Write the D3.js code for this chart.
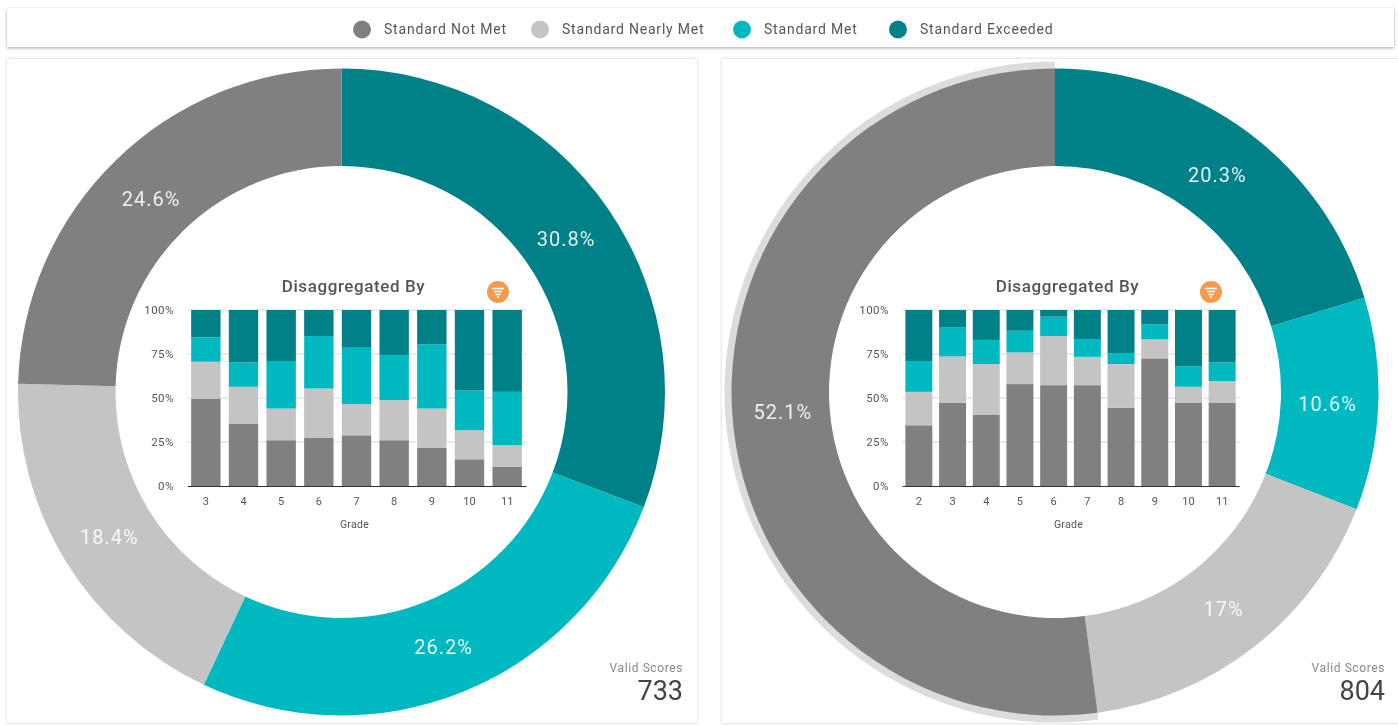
<!DOCTYPE html>
<html><head><meta charset="utf-8">
<script src="https://cdn.jsdelivr.net/npm/d3@7"></script>
<style>
html,body{margin:0;padding:0;background:#fff;overflow:hidden;width:1398px;height:725px;font-family:Roboto,sans-serif}
.card{position:absolute;background:#fff;box-shadow:0 0 3px rgba(0,0,0,.22)}
.bar{box-shadow:0 1px 3px rgba(0,0,0,.35)}
svg{position:absolute;left:0;top:0;filter:blur(.55px)}
</style></head><body>
<div class="card bar" style="left:7px;top:8px;width:1387px;height:39px"></div>
<div class="card" style="left:7px;top:59px;width:690px;height:664px"></div>
<div class="card" style="left:722px;top:59px;width:690px;height:664px"></div>
<svg id="c" width="1398" height="725"></svg>
<script>
const levels = ["Standard Not Met","Standard Nearly Met","Standard Met","Standard Exceeded"];
const levelColors = ["#808080","#c4c4c4","#00b8c0","#008087"];

const leftShares = [24.6,18.4,26.2,30.8];
const rightShares = [52.1,17,10.6,20.3];
const leftShareLabels = ["24.6%","18.4%","26.2%","30.8%"];
const rightShareLabels = ["52.1%","17%","10.6%","20.3%"];

const leftGrades = ["3","4","5","6","7","8","9","10","11"];
const leftNotMet = [49.7,35.5,26,27.3,28.8,26,21.6,15.2,11];
const leftNearly = [20.9,20.9,18,28.1,17.7,22.8,22.4,16.5,12.2];
const leftMet = [13.8,13.8,27,29.8,32.1,25.6,36.5,22.6,30.3];
const leftExceeded = [15.6,29.8,29,14.8,21.4,25.6,19.5,45.7,46.5];

const rightGrades = ["2","3","4","5","6","7","8","9","10","11"];
const rightNotMet = [34.5,47.4,40.6,57.9,57.3,57.3,44.4,72.5,47.4,47.4];
const rightNearly = [19,26.2,28.7,18,27.9,16.1,24.9,10.8,9,12.2];
const rightMet = [17.5,16.4,13.7,12.3,11,10.1,6,8.5,11.7,10.6];
const rightExceeded = [29,10,17,11.8,3.8,16.5,24.7,8.2,31.9,29.8];

const yTicks = [0,25,50,75,100];
const svg = d3.select("#c");

// legend
const legendX = [362,540,742,898];
const legendG = svg.append("g");
levels.forEach((l,i)=>{
  legendG.append("circle").attr("cx",legendX[i]).attr("cy",29.5).attr("r",9).attr("fill",levelColors[i]);
  legendG.append("text").attr("x",legendX[i]+22).attr("y",34).attr("font-size",14).attr("letter-spacing",.8).attr("fill","#555").text(l);
});

function panel(o){
  const g = svg.append("g");
  const cx=o.cx, cy=392, rO=323.5, rI=226;
  const order=[3,2,1,0];
  const pie=d3.pie().sort(null).value(i=>o.shares[i]);
  const arcs=pie(order);
  const arc=d3.arc().innerRadius(rI).outerRadius(rO);
  if(o.halo){
    const h=arcs.find(a=>a.data===o.halo-1);
    g.append("path").attr("transform",`translate(${cx},${cy})`)
      .attr("d",d3.arc().innerRadius(rI).outerRadius(330.5)(h)).attr("fill","#dcdcdc");
  }
  const dg=g.append("g").attr("transform",`translate(${cx},${cy})`);
  dg.selectAll("path").data(arcs).join("path").attr("d",arc).attr("fill",d=>levelColors[d.data]);
  const lab=d3.arc().innerRadius(rI).outerRadius(rO-4);
  dg.selectAll("text").data(arcs).join("text")
    .attr("transform",d=>`translate(${lab.centroid(d)})`)
    .attr("text-anchor","middle").attr("dy","0.46em")
    .attr("font-size",20).attr("letter-spacing",1).attr("fill","#fff").attr("fill-opacity",.88)
    .text(d=>o.labels[d.data]);

  // inner chart
  const x=d3.scaleBand().domain(o.grades).range(o.xr).paddingInner(o.pad).paddingOuter(o.pad/2);
  const y=d3.scaleLinear().domain([0,100]).range([486,310]);
  const rows=o.grades.map((gr,i)=>({grade:gr,a:o.series[0][i],b:o.series[1][i],c:o.series[2][i],d:o.series[3][i]}));
  const stack=d3.stack().keys(["a","b","c","d"])(rows);

  const yAxis=d3.axisLeft(y).tickValues(yTicks).tickFormat(d=>d+"%").tickSize(0).tickPadding(0);
  const ya=g.append("g").attr("transform",`translate(${o.xr[0]-13},0)`).call(yAxis);
  ya.select(".domain").remove();
  ya.selectAll("text").attr("font-size",11.5).attr("letter-spacing",.5).attr("font-family","Roboto").attr("fill","#555");

  g.append("g").selectAll("line").data(yTicks.filter(t=>t>0)).join("line")
    .attr("x1",o.xr[0]).attr("x2",o.xr[1]).attr("y1",y).attr("y2",y).attr("stroke","#d8d8d8");

  const bars=g.append("g");
  stack.forEach((s,k)=>{
    bars.append("g").selectAll("rect").data(s).join("rect")
      .attr("x",d=>x(d.data.grade)).attr("width",x.bandwidth())
      .attr("y",d=>y(d[1])).attr("height",d=>y(d[0])-y(d[1]))
      .attr("fill",levelColors[k]);
  });

  const xa=g.append("g").attr("transform","translate(0,486)").call(d3.axisBottom(x).tickSize(0).tickPadding(11));
  xa.select(".domain").attr("stroke","#333").attr("stroke-width",1.2);
  xa.selectAll("text").attr("font-size",11).attr("font-family","Roboto").attr("fill","#555");

  g.append("text").attr("x",(o.xr[0]+o.xr[1])/2-2).attr("y",528).attr("text-anchor","middle")
    .attr("font-size",10.5).attr("letter-spacing",.3).attr("fill","#555").text("Grade");
  g.append("text").attr("x",(o.xr[0]+o.xr[1])/2-3).attr("y",292).attr("text-anchor","middle")
    .attr("font-size",17).attr("font-weight",500).attr("letter-spacing",.6).attr("fill","#555").text("Disaggregated By");

  // filter icon
  const ig=g.append("g").attr("transform",`translate(${o.icon},292)`);
  ig.append("circle").attr("r",11).attr("fill","#f39a4b");
  [[-6,6,-3.5],[-4,4,-.5],[-2.5,2.5,2.5],[-1,1,5]].forEach(([a,b,yy])=>
    ig.append("line").attr("x1",a).attr("x2",b).attr("y1",yy).attr("y2",yy).attr("stroke","#fff").attr("stroke-width",1.6));

  g.append("text").attr("x",o.vx).attr("y",672).attr("text-anchor","end").attr("font-size",12).attr("letter-spacing",.6).attr("fill","#888").text("Valid Scores");
  g.append("text").attr("x",o.vx).attr("y",700).attr("text-anchor","end").attr("font-size",27).attr("fill","#444").text(o.valid);
}

panel({cx:341.5,shares:leftShares,labels:leftShareLabels,grades:leftGrades,
  series:[leftNotMet,leftNearly,leftMet,leftExceeded],xr:[187,526],pad:.22,icon:498,vx:683,valid:"733"});
panel({cx:1055,shares:rightShares,labels:rightShareLabels,grades:rightGrades,halo:1,
  series:[rightNotMet,rightNearly,rightMet,rightExceeded],xr:[902,1239],pad:.2,icon:1211,vx:1385,valid:"804"});
</script></body></html>
